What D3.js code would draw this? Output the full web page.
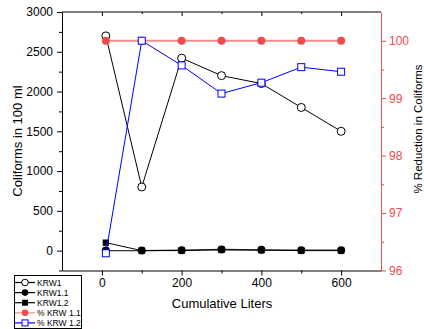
<!DOCTYPE html>
<html>
<head>
<meta charset="utf-8">
<script src="https://cdn.jsdelivr.net/npm/d3@7"></script>
<style>
  body { margin: 0; background: #fff; }
  svg { display: block; font-family: Arial, "Liberation Sans", sans-serif; }
</style>
</head>
<body>
<svg id="chart" width="424" height="329"></svg>
<script>
// Cumulative volume filtered (liters)
const liters = [10, 100, 200, 300, 400, 500, 600];
// Coliform counts per 100 ml
const krw1 = [2700, 800, 2420, 2200, 2100, 1800, 1500];
const krw11 = [0, 0, 5, 15, 10, 5, 5];
const krw12 = [100, 0, 0, 10, 5, 0, 0];
// Percent reduction in coliforms
const pctKrw11 = [100, 100, 100, 100, 100, 100, 100];
const pctKrw12 = [96.3, 100, 99.57, 99.08, 99.27, 99.54, 99.46];

const xTicks = [0, 200, 400, 600];
const yLeftTicks = [0, 500, 1000, 1500, 2000, 2500, 3000];
const yRightTicks = [96, 97, 98, 99, 100];

const legendNames = ["KRW1", "KRW1.1", "KRW1.2", "% KRW 1.1", "% KRW 1.2"];

const svg = d3.select("#chart");
const L = 62, R = 381, T = 12, B = 270.5;
const RED = "#f04a4a", RED_LINE = "#f28c8c", BLUE = "#0000ff";
const fmt = d3.format("d");

const x = d3.scaleLinear().domain([-100, 700]).range([L, R]);
const yL = d3.scaleLinear().domain([-250, 3000]).range([B, T]);
const yR = d3.scaleLinear().domain([96, 100.5]).range([B, T]);

// frame top edge
svg.append("line").attr("x1", L).attr("x2", R).attr("y1", T).attr("y2", T)
  .attr("stroke", "#000").attr("stroke-width", 1);

// bottom axis with minor ticks
const gB = svg.append("g").attr("transform", `translate(0,${B})`);
gB.call(d3.axisBottom(x).tickValues(xTicks).tickFormat(fmt).tickSize(5).tickPadding(3).tickSizeOuter(0));
gB.append("g").call(d3.axisBottom(x).tickValues([100, 300, 500]).tickSize(3).tickFormat("").tickSizeOuter(0))
  .select(".domain").remove();

// top ticks (inward)
const gT = svg.append("g").attr("transform", `translate(0,${T})`);
gT.call(d3.axisBottom(x).tickValues(xTicks).tickSize(4).tickFormat("").tickSizeOuter(0));
gT.append("g").call(d3.axisBottom(x).tickValues([100, 300, 500]).tickSize(2).tickFormat("").tickSizeOuter(0))
  .select(".domain").remove();
gT.select(".domain").remove();

// left axis
const gL = svg.append("g").attr("transform", `translate(${L},0)`);
gL.call(d3.axisLeft(yL).tickValues(yLeftTicks).tickFormat(fmt).tickSize(5).tickPadding(4).tickSizeOuter(0));
gL.append("g").call(d3.axisLeft(yL).tickValues([-250, 250, 750, 1250, 1750, 2250, 2750]).tickSize(3).tickFormat("").tickSizeOuter(0))
  .select(".domain").remove();

// right axis (red)
const gR = svg.append("g").attr("transform", `translate(${R},0)`);
gR.call(d3.axisRight(yR).tickValues(yRightTicks).tickFormat(fmt).tickSize(5).tickPadding(3).tickSizeOuter(0));
gR.append("g").call(d3.axisRight(yR).tickValues([96.5, 97.5, 98.5, 99.5]).tickSize(3).tickFormat("").tickSizeOuter(0))
  .select(".domain").remove();
gR.selectAll("path, line").attr("stroke", RED);
gR.selectAll("text").attr("fill", RED);

svg.selectAll(".tick text").attr("font-size", 12).attr("font-family", "Arial, 'Liberation Sans', sans-serif");

// axis titles
svg.append("text").attr("transform", `translate(22,141) rotate(-90)`)
  .attr("text-anchor", "middle").attr("font-size", 13).text("Coliforms in 100 ml");
svg.append("text").attr("transform", `translate(421.5,129) rotate(-90)`)
  .attr("text-anchor", "middle").attr("font-size", 11.5).text("% Reduction in Coliforms");
svg.append("text").attr("x", 222).attr("y", 308)
  .attr("text-anchor", "middle").attr("font-size", 13).text("Cumulative Liters");

// series
function lineFor(vals, yScale) {
  return d3.line().x((d, i) => x(liters[i])).y(d => yScale(d))(vals);
}
const sym = (type, size) => d3.symbol().type(type).size(size)();

// KRW1.1
svg.append("path").attr("d", lineFor(krw11, yL)).attr("fill", "none").attr("stroke", "#333").attr("stroke-width", 1.2);
// KRW1.2
svg.append("path").attr("d", lineFor(krw12, yL)).attr("fill", "none").attr("stroke", "#000").attr("stroke-width", 1);
svg.selectAll(".m12").data(krw12).enter().append("path")
  .attr("transform", (d, i) => `translate(${x(liters[i])},${yL(d)})`)
  .attr("d", sym(d3.symbolSquare, 40)).attr("fill", "#000");
svg.selectAll(".m11").data(krw11).enter().append("circle")
  .attr("cx", (d, i) => x(liters[i])).attr("cy", d => yL(d)).attr("r", 4).attr("fill", "#000");

// KRW1
svg.append("path").attr("d", lineFor(krw1, yL)).attr("fill", "none").attr("stroke", "#000").attr("stroke-width", 1);
svg.selectAll(".m1").data(krw1).enter().append("circle")
  .attr("cx", (d, i) => x(liters[i])).attr("cy", d => yL(d)).attr("r", 4)
  .attr("fill", "#fff").attr("stroke", "#000").attr("stroke-width", 1);

// % KRW 1.1
svg.append("path").attr("d", lineFor(pctKrw11, yR)).attr("fill", "none").attr("stroke", RED_LINE).attr("stroke-width", 2);
svg.selectAll(".mp11").data(pctKrw11).enter().append("circle")
  .attr("cx", (d, i) => x(liters[i])).attr("cy", d => yR(d)).attr("r", 4).attr("fill", RED);

// % KRW 1.2
svg.append("path").attr("d", lineFor(pctKrw12, yR)).attr("fill", "none").attr("stroke", BLUE).attr("stroke-width", 1);
svg.selectAll(".mp12").data(pctKrw12).enter().append("rect")
  .attr("x", (d, i) => x(liters[i]) - 3.5).attr("y", d => yR(d) - 3.5)
  .attr("width", 7).attr("height", 7).attr("fill", "#fff").attr("stroke", BLUE).attr("stroke-width", 1);

// legend
const lg = svg.append("g");
lg.append("rect").attr("x", 14.5).attr("y", 275.5).attr("width", 67).attr("height", 53)
  .attr("fill", "#fff").attr("stroke", "#000").attr("stroke-width", 1);
const lgStyle = [
  { stroke: "#000", marker: "circle", fill: "#fff", mstroke: "#000" },
  { stroke: "#000", marker: "circle", fill: "#000", mstroke: "none" },
  { stroke: "#000", marker: "square", fill: "#000", mstroke: "none" },
  { stroke: RED_LINE, marker: "circle", fill: RED, mstroke: "none" },
  { stroke: BLUE, marker: "osquare", fill: "#fff", mstroke: BLUE }
];
legendNames.forEach((name, i) => {
  const cy = 282.5 + i * 10.1;
  const s = lgStyle[i];
  lg.append("line").attr("x1", 15).attr("x2", 35).attr("y1", cy).attr("y2", cy)
    .attr("stroke", s.stroke).attr("stroke-width", 1.2);
  if (s.marker === "circle") {
    lg.append("circle").attr("cx", 25).attr("cy", cy).attr("r", 3.3)
      .attr("fill", s.fill).attr("stroke", s.mstroke);
  } else {
    lg.append("rect").attr("x", 22).attr("y", cy - 3).attr("width", 6).attr("height", 6)
      .attr("fill", s.fill).attr("stroke", s.mstroke);
  }
  lg.append("text").attr("x", 37).attr("y", cy + 3.2).attr("font-size", 8.5).text(name);
});
</script>
</body>
</html>
